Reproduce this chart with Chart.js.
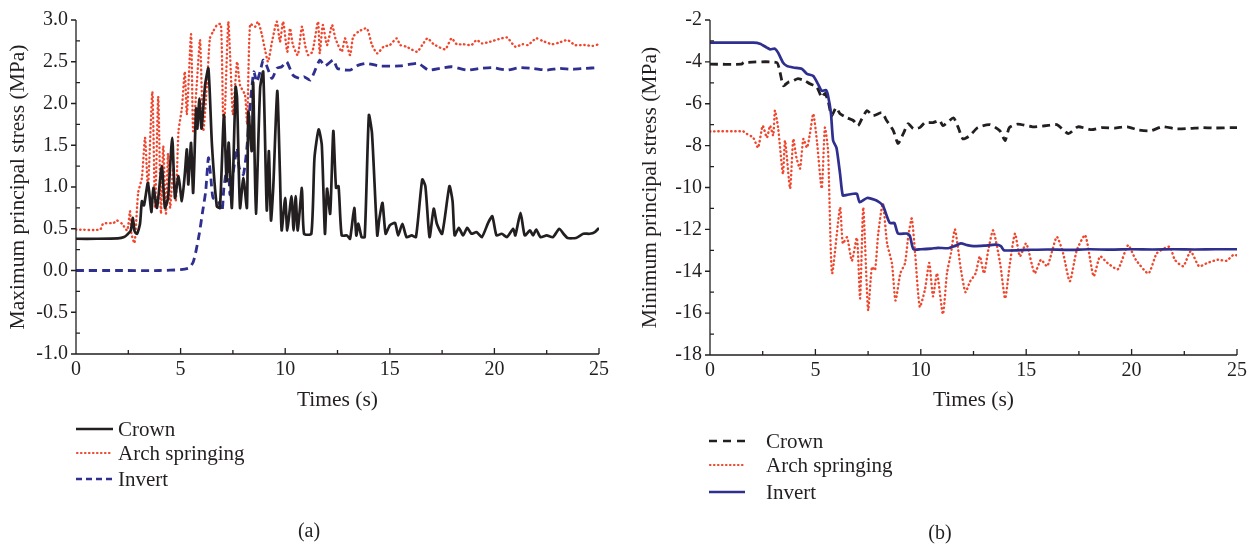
<!DOCTYPE html>
<html>
<head>
<meta charset="utf-8">
<title>Principal stress histories</title>
<script src="https://cdn.jsdelivr.net/npm/chart.js@4.4.1/dist/chart.umd.min.js"></script>
<style>
  html, body { margin: 0; padding: 0; background: #ffffff; }
  body { width: 1258px; height: 547px; position: relative; overflow: hidden;
         font-family: 'Liberation Serif', 'Times New Roman', serif; color: #231f20; }
  canvas { position: absolute; top: 0; }
  #chartA { left: 0; }
  #chartB { left: 630px; }
  .key { position: absolute; font-size: 21px; line-height: 24px; white-space: nowrap; }
  .cap { position: absolute; font-size: 20px; line-height: 24px; white-space: nowrap; transform: translateX(-50%); }
  svg.keys { position: absolute; left: 0; top: 0; overflow: visible; }
</style>
</head>
<body>
<canvas id="chartA" width="630" height="430"></canvas>
<canvas id="chartB" width="628" height="430"></canvas>

<svg class="keys" width="1258" height="547">
  <line x1="76" y1="429" x2="113" y2="429" stroke="#231f20" stroke-width="2.6"/>
  <line x1="77" y1="453" x2="113" y2="453" stroke="#f0462d" stroke-width="2.2" stroke-dasharray="0.5 3.5" stroke-linecap="round"/>
  <line x1="76" y1="479" x2="113" y2="479" stroke="#2e2f8f" stroke-width="2.6" stroke-dasharray="6 4"/>
  <line x1="709" y1="441" x2="745" y2="441" stroke="#231f20" stroke-width="2.6" stroke-dasharray="8 6"/>
  <line x1="710" y1="465" x2="745" y2="465" stroke="#f0462d" stroke-width="2.2" stroke-dasharray="0.5 3.5" stroke-linecap="round"/>
  <line x1="709" y1="492" x2="745" y2="492" stroke="#2e2f8f" stroke-width="2.6"/>
</svg>

<div class="key" style="left:118px;top:417px;">Crown</div>
<div class="key" style="left:118px;top:441px;">Arch springing</div>
<div class="key" style="left:118px;top:467px;">Invert</div>
<div class="cap" style="left:309px;top:518px;">(a)</div>

<div class="key" style="left:766px;top:429px;">Crown</div>
<div class="key" style="left:766px;top:453px;">Arch springing</div>
<div class="key" style="left:766px;top:480px;">Invert</div>
<div class="cap" style="left:940px;top:520px;">(b)</div>

<script>
// ---- time axis ----
const timeTicks = [0, 5, 10, 15, 20, 25];

// ---- (a) maximum principal stress, MPa ----
const maxTicks = [-1.0, -0.5, 0.0, 0.5, 1.0, 1.5, 2.0, 2.5, 3.0];

const crownMax = [
  [0,0.38],[1.0,0.38],[2.0,0.385],[2.3,0.40],[2.45,0.43],[2.62,0.48],[2.72,0.63],[2.8,0.47],
  [2.92,0.44],[3.06,0.56],[3.15,0.83],[3.25,0.78],[3.44,1.05],[3.6,0.70],[3.7,0.99],[3.87,0.75],
  [4.1,1.25],[4.25,0.75],[4.4,0.87],[4.6,1.59],[4.73,0.87],[4.9,1.13],[5.06,0.83],[5.2,1.15],
  [5.3,1.45],[5.37,1.03],[5.5,1.53],[5.6,0.93],[5.74,1.94],[5.8,1.7],[5.9,2.06],[6.0,1.7],
  [6.17,2.22],[6.33,2.42],[6.5,1.5],[6.73,0.77],[6.88,0.75],[7.07,1.86],[7.2,1.07],[7.3,1.53],
  [7.45,0.75],[7.63,2.2],[7.7,2.06],[7.84,0.75],[8.0,1.11],[8.17,0.75],[8.24,1.9],[8.4,1.43],
  [8.47,2.25],[8.6,0.68],[8.8,2.18],[8.95,2.38],[9.12,0.72],[9.22,1.43],[9.32,0.6],[9.43,1.0],
  [9.62,2.15],[9.75,1.15],[9.83,0.48],[10.0,0.87],[10.1,0.48],[10.3,0.89],[10.4,0.48],[10.5,0.89],
  [10.6,0.48],[10.8,0.99],[10.9,0.44],[11.25,0.44],[11.4,1.35],[11.6,1.69],[11.75,1.5],[11.9,0.44],
  [12.0,0.98],[12.15,0.68],[12.3,1.67],[12.43,0.99],[12.55,1.01],[12.7,0.42],[12.95,0.42],[13.1,0.38],
  [13.3,0.75],[13.4,0.42],[13.5,0.56],[13.65,0.4],[13.8,0.4],[14.0,1.86],[14.15,1.64],[14.4,0.42],
  [14.5,0.62],[14.65,0.81],[14.8,0.44],[15.0,0.54],[15.25,0.57],[15.4,0.42],[15.6,0.56],[15.8,0.4],
  [16.05,0.42],[16.25,0.4],[16.55,1.09],[16.7,1.01],[16.9,0.4],[17.1,0.74],[17.25,0.56],[17.5,0.44],
  [17.85,1.01],[18.0,0.83],[18.1,0.42],[18.3,0.51],[18.5,0.42],[18.7,0.51],[18.9,0.44],[19.15,0.46],
  [19.4,0.4],[19.7,0.57],[19.9,0.65],[20.1,0.42],[20.35,0.44],[20.6,0.4],[20.9,0.5],[21.0,0.42],
  [21.25,0.69],[21.45,0.42],[21.7,0.48],[21.85,0.42],[22.0,0.49],[22.2,0.4],[22.5,0.42],[22.8,0.4],
  [23.1,0.5],[23.3,0.44],[23.5,0.39],[23.9,0.39],[24.25,0.44],[24.55,0.44],[24.8,0.46],[25,0.51]
];

const archMax = [
  [0,0.49],[1.15,0.49],[1.3,0.56],[1.8,0.57],[1.95,0.6],[2.2,0.56],[2.45,0.48],[2.58,0.71],
  [2.65,0.44],[2.8,0.33],[2.97,0.93],[3.15,1.11],[3.3,1.59],[3.44,0.99],[3.65,2.14],[3.78,0.75],
  [3.93,2.08],[4.06,0.68],[4.17,1.49],[4.3,0.68],[4.4,1.4],[4.5,0.75],[4.65,1.23],[4.77,0.83],
  [4.9,1.67],[5.06,1.94],[5.2,2.38],[5.3,1.87],[5.5,2.83],[5.6,1.67],[5.77,2.22],[5.93,2.76],
  [6.08,1.67],[6.26,2.22],[6.4,2.78],[6.55,2.86],[6.74,2.94],[6.93,2.95],[7.03,1.87],[7.1,1.8],
  [7.28,2.98],[7.4,2.38],[7.5,1.87],[7.7,2.5],[7.84,2.22],[8.08,2.1],[8.18,1.75],[8.32,2.95],
  [8.56,2.92],[8.7,2.98],[8.89,2.82],[9.03,2.65],[9.18,2.5],[9.37,2.74],[9.6,2.98],[9.75,2.74],
  [9.9,2.98],[10.1,2.62],[10.23,2.9],[10.37,2.7],[10.6,2.58],[10.8,2.92],[10.95,2.7],[11.1,2.58],
  [11.3,2.62],[11.57,2.98],[11.65,2.6],[11.8,2.94],[12.0,2.7],[12.24,2.94],[12.4,2.78],[12.7,2.62],
  [12.86,2.78],[13.1,2.58],[13.25,2.8],[13.5,2.86],[13.9,2.9],[14.15,2.7],[14.4,2.6],[14.7,2.68],
  [15.0,2.7],[15.33,2.78],[15.5,2.7],[15.8,2.68],[16.3,2.62],[16.55,2.7],[16.8,2.78],[17.1,2.71],
  [17.65,2.65],[17.95,2.78],[18.2,2.71],[18.5,2.71],[18.9,2.7],[19.15,2.76],[19.4,2.72],[19.8,2.74],
  [20.2,2.77],[20.6,2.79],[21.0,2.68],[21.35,2.71],[21.6,2.7],[22.0,2.78],[22.3,2.75],[22.75,2.71],
  [23.1,2.73],[23.5,2.76],[23.85,2.7],[24.3,2.7],[24.7,2.69],[25,2.71]
];

const invertMax = [
  [0,0],[2.0,0],[4.0,0],[5.0,0.01],[5.4,0.03],[5.6,0.1],[5.75,0.25],[5.9,0.45],[6.05,0.7],
  [6.2,0.95],[6.33,1.35],[6.45,1.1],[6.55,0.87],[6.8,0.83],[6.98,0.71],[7.07,0.99],[7.27,1.31],
  [7.36,0.91],[7.5,1.15],[7.7,1.47],[7.8,1.23],[8.0,1.15],[8.17,1.47],[8.28,1.87],[8.4,2.18],
  [8.5,2.38],[8.64,2.26],[8.8,2.38],[8.95,2.52],[9.1,2.46],[9.37,2.3],[9.6,2.42],[9.83,2.44],
  [10.07,2.5],[10.37,2.34],[10.7,2.3],[10.9,2.32],[11.2,2.28],[11.4,2.38],[11.66,2.52],[11.9,2.45],
  [12.3,2.52],[12.5,2.42],[13.1,2.4],[13.5,2.46],[13.9,2.48],[14.5,2.45],[15.5,2.45],[16.35,2.48],
  [16.85,2.4],[17.4,2.42],[17.95,2.44],[18.7,2.4],[19.3,2.42],[19.9,2.43],[20.6,2.4],[21.2,2.43],
  [21.85,2.42],[22.5,2.4],[23.1,2.42],[23.7,2.41],[24.3,2.42],[25,2.43]
];

// ---- (b) minimum principal stress, MPa ----
const minTicks = [-18, -16, -14, -12, -10, -8, -6, -4, -2];

const crownMin = [
  [0,-4.11],[1.5,-4.11],[1.6,-4.03],[3.16,-4.03],[3.32,-4.5],[3.48,-5.14],[3.7,-4.98],[3.95,-4.9],
  [4.17,-4.8],[4.5,-4.9],[4.74,-5.05],[5.07,-5.2],[5.3,-5.7],[5.45,-5.5],[5.6,-5.86],[5.77,-6.57],
  [5.98,-6.19],[6.17,-6.48],[6.48,-6.66],[6.8,-6.8],[7.02,-7.05],[7.2,-6.73],[7.45,-6.33],[7.73,-6.57],
  [8.15,-6.43],[8.38,-6.8],[8.7,-7.29],[8.92,-7.9],[9.17,-7.43],[9.4,-6.95],[9.65,-7.19],[9.95,-7.14],
  [10.2,-6.9],[10.58,-6.9],[10.9,-6.8],[11.05,-7.05],[11.55,-6.68],[11.8,-7.2],[12.0,-7.68],[12.33,-7.52],
  [12.7,-7.14],[13.28,-7.0],[13.75,-7.29],[14.0,-7.76],[14.2,-7.14],[14.6,-6.97],[15.3,-7.1],[15.9,-7.05],
  [16.45,-7.0],[17.0,-7.43],[17.45,-7.1],[18.1,-7.24],[18.6,-7.14],[19.2,-7.16],[19.8,-7.1],[20.3,-7.25],
  [20.9,-7.29],[21.45,-7.1],[22.15,-7.2],[22.8,-7.18],[23.3,-7.14],[23.95,-7.16],[24.7,-7.14],[25,-7.14]
];

const archMin = [
  [0,-7.32],[1.57,-7.32],[1.75,-7.44],[2.05,-7.62],[2.28,-8.1],[2.5,-7.05],[2.7,-7.62],[2.85,-7.05],
  [3.0,-7.52],[3.08,-6.33],[3.23,-7.14],[3.46,-9.35],[3.56,-7.76],[3.8,-10.05],[3.95,-7.68],[4.1,-8.57],
  [4.27,-9.1],[4.43,-7.68],[4.6,-8.1],[4.74,-7.44],[4.9,-6.48],[5.07,-7.76],[5.3,-10.05],[5.45,-7.14],
  [5.6,-8.24],[5.79,-14.1],[6.17,-10.95],[6.3,-12.67],[6.5,-12.38],[6.73,-13.5],[6.97,-12.4],[7.12,-15.3],
  [7.27,-10.95],[7.5,-15.86],[7.68,-13.8],[7.83,-13.95],[7.98,-12.2],[8.2,-10.76],[8.4,-12.67],[8.63,-13.62],
  [8.8,-15.4],[9.03,-14.1],[9.25,-13.62],[9.4,-12.38],[9.57,-11.48],[9.73,-13.14],[9.95,-15.7],[10.2,-14.86],
  [10.4,-13.6],[10.58,-15.2],[10.77,-14.1],[11.05,-16.05],[11.24,-14.1],[11.43,-13.14],[11.62,-12.0],[11.9,-13.9],
  [12.12,-15.0],[12.33,-14.5],[12.6,-14.1],[12.8,-13.29],[13.0,-14.1],[13.2,-13.0],[13.43,-12.05],[13.76,-13.6],
  [14.0,-15.3],[14.23,-13.6],[14.47,-12.2],[14.7,-13.29],[15.0,-12.67],[15.4,-14.1],[15.7,-13.45],[16.0,-13.76],
  [16.45,-12.36],[16.75,-13.14],[17.07,-14.48],[17.4,-13.0],[17.8,-12.28],[18.2,-14.24],[18.5,-13.29],[18.85,-13.6],
  [19.35,-13.9],[19.83,-12.76],[20.2,-13.45],[20.8,-14.1],[21.2,-13.14],[21.8,-12.83],[22.05,-13.45],[22.45,-13.76],
  [22.8,-13.05],[23.2,-13.76],[23.6,-13.6],[24.1,-13.45],[24.5,-13.5],[24.85,-13.2],[25,-13.25]
];

const invertMin = [
  [0,-3.08],[2.05,-3.08],[2.37,-3.13],[2.7,-3.32],[2.85,-3.4],[3.08,-3.37],[3.23,-3.56],[3.46,-4.03],
  [3.64,-4.19],[3.95,-4.27],[4.35,-4.33],[4.6,-4.57],[4.9,-4.67],[5.12,-5.05],[5.3,-5.38],[5.5,-5.35],
  [5.6,-5.62],[5.74,-6.48],[5.84,-7.76],[6.0,-8.1],[6.17,-9.35],[6.3,-10.38],[6.5,-10.35],[6.8,-10.3],
  [6.97,-10.3],[7.1,-10.7],[7.45,-10.5],[7.9,-10.62],[8.2,-10.86],[8.4,-11.4],[8.54,-11.7],[8.75,-11.7],
  [8.92,-12.2],[9.34,-12.2],[9.48,-12.3],[9.65,-12.95],[10.0,-12.95],[10.5,-12.92],[10.8,-12.88],[11.3,-12.9],
  [11.6,-12.8],[11.9,-12.67],[12.2,-12.75],[12.5,-12.8],[13.0,-12.78],[13.55,-12.73],[13.8,-12.8],[13.95,-13.0],
  [15,-12.98],[16,-12.96],[17,-12.98],[18,-12.95],[19,-12.97],[20,-12.95],[21,-12.96],[22,-12.95],
  [23,-12.96],[24,-12.95],[25,-12.95]
];

// ---- styling ----
const INK = '#231f20';
const RED = '#f0462d';
const BLUE = '#2e2f8f';
const FAMILY = "'Liberation Serif', 'Times New Roman', serif";

const solid = (color) => ({ borderColor: color, borderWidth: 2.7, borderDash: [], borderCapStyle: 'butt' });
const dashed = (color) => ({ borderColor: color, borderWidth: 2.8, borderDash: [8, 5], borderCapStyle: 'butt' });
const dotted = (color) => ({ borderColor: color, borderWidth: 2.4, borderDash: [0.4, 3.8], borderCapStyle: 'round' });

// Axis lines plus inward/outward tick marks, placed through the chart's scales.
const axisFrame = {
  id: 'axisFrame',
  afterDraw(chart) {
    const { ctx, chartArea: { left, right, top, bottom }, scales: { x, y } } = chart;
    ctx.save();
    ctx.strokeStyle = INK;
    ctx.lineWidth = 1.3;
    ctx.beginPath();
    ctx.moveTo(left, top);
    ctx.lineTo(left, bottom);
    ctx.lineTo(right, bottom);
    const xv = x.ticks.map(t => t.value);
    xv.forEach((v, i) => {
      const px = x.getPixelForValue(v);
      ctx.moveTo(px, bottom); ctx.lineTo(px, bottom - 6);
      if (i < xv.length - 1) {
        const mx = x.getPixelForValue((v + xv[i + 1]) / 2);
        ctx.moveTo(mx, bottom); ctx.lineTo(mx, bottom - 4);
      }
    });
    const yv = y.ticks.map(t => t.value);
    yv.forEach((v, i) => {
      const py = y.getPixelForValue(v);
      ctx.moveTo(left - 5, py); ctx.lineTo(left, py);
      if (i < yv.length - 1) {
        const my = y.getPixelForValue((v + yv[i + 1]) / 2);
        ctx.moveTo(left, my); ctx.lineTo(left + 4, my);
      }
    });
    ctx.stroke();
    ctx.restore();
  }
};

function buildChart(canvas, cfg) {
  const tickFont = { family: FAMILY, size: 20 };
  const titleFont = { family: FAMILY, size: 21.5 };
  return new Chart(canvas, {
    type: 'line',
    data: {
      datasets: cfg.series.map(s => Object.assign({
        label: s.label,
        data: s.points.map(([t, v]) => ({ x: t, y: v })),
        pointRadius: 0,
        fill: false,
        tension: 0.2
      }, s.style))
    },
    options: {
      responsive: false,
      animation: false,
      events: [],
      layout: { padding: { top: cfg.padTop, right: cfg.padRight, left: 0, bottom: 0 } },
      plugins: { legend: { display: false }, tooltip: { enabled: false } },
      scales: {
        x: {
          type: 'linear', min: 0, max: 25,
          afterBuildTicks: (s) => { s.ticks = timeTicks.map(v => ({ value: v })); },
          afterFit: (s) => { s.height = cfg.xHeight; },
          ticks: { font: tickFont, color: INK, padding: 4, maxRotation: 0, autoSkip: false,
                   callback: (v) => String(v) },
          grid: { display: false, drawTicks: false },
          border: { display: false },
          title: { display: true, text: 'Times (s)', font: titleFont, color: INK,
                   padding: { top: 0, bottom: 17 } }
        },
        y: {
          type: 'linear', min: cfg.yTicks[0], max: cfg.yTicks[cfg.yTicks.length - 1],
          afterBuildTicks: (s) => { s.ticks = cfg.yTicks.map(v => ({ value: v })); },
          afterFit: (s) => { s.width = cfg.yWidth; },
          ticks: { font: tickFont, color: INK, padding: 8, autoSkip: false,
                   callback: cfg.yFormat },
          grid: { display: false, drawTicks: false },
          border: { display: false },
          title: { display: true, text: cfg.yTitle, font: titleFont, color: INK,
                   padding: { top: cfg.yTitlePad, bottom: 0 } }
        }
      }
    },
    plugins: [axisFrame]
  });
}

buildChart(document.getElementById('chartA'), {
  padTop: 18, padRight: 31, xHeight: 76, yWidth: 76, yTitlePad: 5,
  yTicks: maxTicks,
  yFormat: (v) => Number(v).toFixed(1),
  yTitle: 'Maximum principal stress (MPa)',
  series: [
    { label: 'Crown', points: crownMax, style: solid(INK) },
    { label: 'Arch springing', points: archMax, style: dotted(RED) },
    { label: 'Invert', points: invertMax, style: dashed(BLUE) }
  ]
});

buildChart(document.getElementById('chartB'), {
  padTop: 19, padRight: 21, xHeight: 75, yWidth: 80, yTitlePad: 7,
  yTicks: minTicks,
  yFormat: (v) => String(v),
  yTitle: 'Minimum principal stress (MPa)',
  series: [
    { label: 'Invert', points: invertMin, style: solid(BLUE) },
    { label: 'Crown', points: crownMin, style: dashed(INK) },
    { label: 'Arch springing', points: archMin, style: dotted(RED) }
  ]
});
</script>
</body>
</html>
